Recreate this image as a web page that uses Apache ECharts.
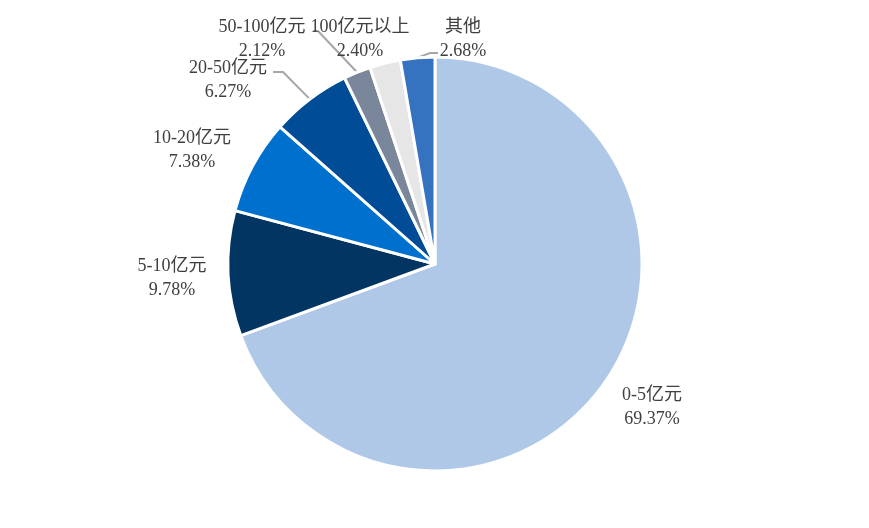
<!DOCTYPE html>
<html><head><meta charset="utf-8">
<script src="https://cdn.jsdelivr.net/npm/echarts@6/dist/echarts.min.js"></script>
<style>html,body{margin:0;padding:0;background:#fff}#c{width:869px;height:528px}</style>
</head><body><div id="c"></div>
<script>
const categories = ['0-5亿元','5-10亿元','10-20亿元','20-50亿元','50-100亿元','100亿元以上','其他'];
const shares = [69.37, 9.78, 7.38, 6.27, 2.12, 2.40, 2.68];
const colors = ['#AFC8E8','#023562','#0070CE','#004C97','#7A8699','#E6E6E6','#3572C0'];
const withLine = [false,false,false,true,true,false,true];
// label anchor (center) positions
const labelPos = [[652,407],[172,278],[192,150],[228,80],[262,39],[360,39],[463,39]];
const lineEnd = [null,null,null,[[283,72],[273,72]],[[318,31],[313,31]],null,[[430,53],[438,53]]];

const chart = echarts.init(document.getElementById('c'));
chart.setOption({
  animation:false,
  series:[{
    type:'pie',
    center:[435,264],
    radius:[0,207],
    startAngle:90,
    clockwise:true,
    avoidLabelOverlap:false,
    itemStyle:{borderColor:'#fff',borderWidth:3},
    label:{
      show:true, position:'outside',
      fontFamily:'"Liberation Serif","Noto Sans CJK SC",serif',
      fontSize:18, color:'#404040', lineHeight:24, align:'center',
      formatter:p => p.name + '\n' + p.value.toFixed(2) + '%'
    },
    labelLine:{show:true, lineStyle:{color:'#A6A6A6',width:2}},
    labelLayout:function(p){
      const i = p.dataIndex;
      const o = {x:labelPos[i][0], y:labelPos[i][1], align:'center', verticalAlign:'middle'};
      if (withLine[i] && p.labelLinePoints) {
        o.labelLinePoints = [p.labelLinePoints[0], lineEnd[i][0], lineEnd[i][1]];
      }
      return o;
    },
    data: categories.map((c,i)=>({
      name:c, value:shares[i],
      itemStyle:{color:colors[i]},
      labelLine:{show:withLine[i]}
    }))
  }]
});
</script></body></html>
